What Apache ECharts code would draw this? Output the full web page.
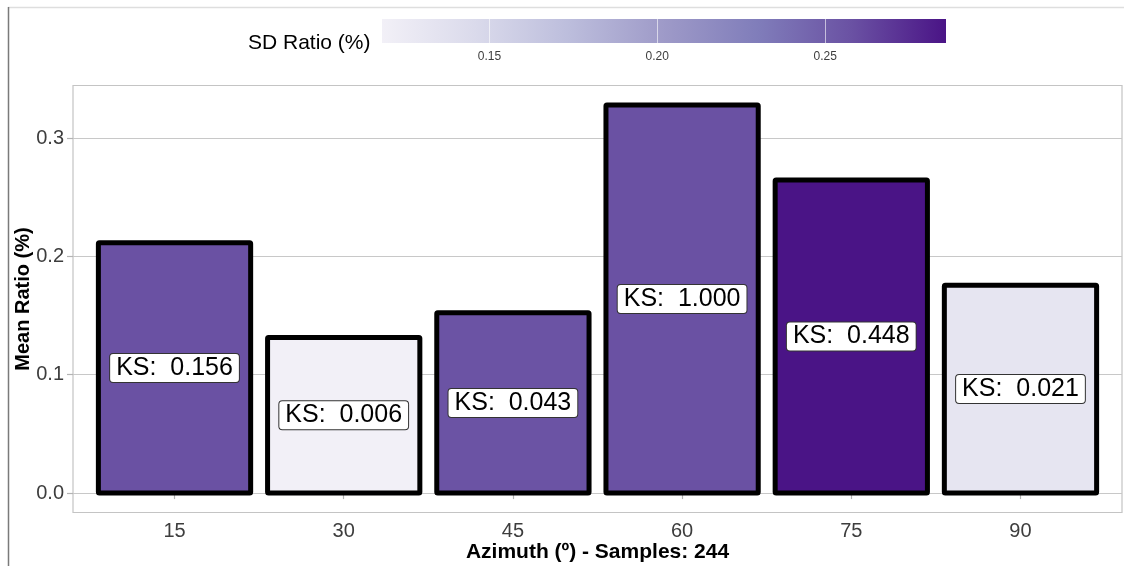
<!DOCTYPE html>
<html>
<head>
<meta charset="utf-8">
<script src="https://cdn.jsdelivr.net/npm/echarts@6/dist/echarts.min.js"></script>
<style>
  html, body { margin: 0; padding: 0; background: #fff; }
  #chart { width: 1124px; height: 566px; }
</style>
</head>
<body>
<div id="chart"></div>
<script>
// Azimuth classes (degrees)
const azimuth = [15, 30, 45, 60, 75, 90];
// Mean ratio (%) per azimuth class
const meanRatio = [0.2115, 0.1315, 0.1524, 0.3280, 0.2646, 0.1757];
// Standard deviation ratio (%) per class, used for the fill colour
const sdRatio = [0.258, 0.118, 0.257, 0.258, 0.286, 0.132];
// Kolmogorov–Smirnov p-values shown on each bar
const ksValue = [0.156, 0.006, 0.043, 1.000, 0.448, 0.021];
// Tick labels
const yTicks = [0, 0.1, 0.2, 0.3];
const sdTicks = [0.15, 0.20, 0.25];

const purples = ['#f2f0f7', '#dadaeb', '#bcbddc', '#9e9ac8', '#807dba', '#6a51a3', '#4a1486'];
const FONT = '"Liberation Sans", Arial, Helvetica, sans-serif';

const step = azimuth[1] - azimuth[0];
const maxMean = Math.max(...meanRatio);
const minSd = Math.min(...sdRatio);
const maxSd = Math.max(...sdRatio);

const barData = azimuth.map((a, i) => [a, meanRatio[i], sdRatio[i], ksValue[i]]);

const chart = echarts.init(document.getElementById('chart'), null, { renderer: 'canvas' });

chart.setOption({
  backgroundColor: '#fff',
  animation: false,
  textStyle: { fontFamily: FONT },
  graphic: [
    { type: 'line', shape: { x1: 8, y1: 7.5, x2: 1124, y2: 7.5 }, style: { stroke: '#dedede', lineWidth: 1.5 } },
    { type: 'line', shape: { x1: 8.5, y1: 7, x2: 8.5, y2: 566 }, style: { stroke: '#7a7a7a', lineWidth: 1.5 } },
    {
      type: 'text', left: 248, top: 33,
      style: { text: 'SD Ratio (%)', fontSize: 21, fontFamily: FONT, fill: '#000' }
    }
  ],
  visualMap: {
    show: false,
    type: 'continuous',
    seriesIndex: 0,
    dimension: 2,
    min: minSd,
    max: maxSd,
    inRange: { color: purples }
  },
  grid: [
    { left: 73, top: 85.5, width: 1049, height: 427, outerBoundsMode: 'none', show: true, borderColor: '#c4c4c4', borderWidth: 1.2, backgroundColor: 'transparent' },
    { left: 382, top: 19, width: 564, height: 24, outerBoundsMode: 'none' }
  ],
  xAxis: [
    {
      type: 'value', gridIndex: 0,
      min: azimuth[0] - 0.6 * step,
      max: azimuth[azimuth.length - 1] + 0.6 * step,
      axisLine: { show: false },
      splitLine: { show: false },
      axisTick: { show: true, customValues: azimuth, length: 6, lineStyle: { color: '#b3b3b3', width: 1.2 } },
      axisLabel: { customValues: azimuth, fontSize: 20, color: '#3d3d3d', margin: 9, fontFamily: FONT },
      name: 'Azimuth (º) - Samples: 244',
      nameLocation: 'middle',
      nameMoveOverlap: false,
      nameGap: 29,
      nameTextStyle: { fontSize: 21, fontWeight: 'bold', color: '#000', fontFamily: FONT }
    },
    {
      type: 'value', gridIndex: 1, min: minSd, max: maxSd, z: 10,
      axisLine: { show: false },
      splitLine: { show: false },
      axisTick: { show: true, inside: true, customValues: sdTicks, length: 24, lineStyle: { color: '#ffffff', width: 1, opacity: 0.6 } },
      axisLabel: { customValues: sdTicks, fontSize: 12, color: '#3d3d3d', margin: 8, fontFamily: FONT, formatter: v => v.toFixed(2) }
    }
  ],
  yAxis: [
    {
      type: 'value', gridIndex: 0,
      min: -0.05 * maxMean,
      max: 1.05 * maxMean,
      axisLine: { show: false },
      axisTick: { show: true, customValues: yTicks, length: 6, lineStyle: { color: '#b3b3b3', width: 1.2 } },
      axisLabel: { customValues: yTicks, fontSize: 20, color: '#3d3d3d', margin: 9, fontFamily: FONT, formatter: v => v.toFixed(1) },
      splitLine: { show: true, lineStyle: { color: '#c8c8c8', width: 1.2 } },
      name: 'Mean Ratio (%)',
      nameLocation: 'middle',
      nameMoveOverlap: false,
      nameGap: 40,
      nameTextStyle: { fontSize: 20, fontWeight: 'bold', color: '#000', fontFamily: FONT }
    },
    {
      type: 'value', gridIndex: 1, min: 0, max: 1,
      axisLine: { show: false }, axisTick: { show: false }, axisLabel: { show: false }, splitLine: { show: false }
    }
  ],
  series: [
    {
      type: 'custom',
      xAxisIndex: 0, yAxisIndex: 0,
      data: barData,
      encode: { x: 0, y: 1 },
      renderItem(params, api) {
        const x = api.value(0);
        const y = api.value(1);
        const ks = api.value(3);
        const half = 0.45 * step;
        const tl = api.coord([x - half, y]);
        const br = api.coord([x + half, 0]);
        return {
          type: 'rect',
          shape: { x: tl[0], y: tl[1], width: br[0] - tl[0], height: br[1] - tl[1], r: 1 },
          style: { fill: api.visual('color'), stroke: '#000', lineWidth: 5, lineJoin: 'round' },
          textContent: {
            style: {
              text: 'KS:  ' + ks.toFixed(3),
              fontSize: 25,
              fontFamily: FONT,
              fill: '#000',
              backgroundColor: '#fff',
              borderColor: '#333',
              borderWidth: 1,
              borderRadius: 3,
              padding: [2, 6, 1, 6],
              lineHeight: 25
            }
          },
          textConfig: { position: 'inside' }
        };
      }
    },
    {
      type: 'custom',
      xAxisIndex: 1, yAxisIndex: 1,
      data: [[minSd, maxSd]],
      renderItem(params, api) {
        const tl = api.coord([api.value(0), 1]);
        const br = api.coord([api.value(1), 0]);
        const stops = purples.map((c, i) => ({ offset: i / (purples.length - 1), color: c }));
        return {
          type: 'rect',
          shape: { x: tl[0], y: tl[1], width: br[0] - tl[0], height: br[1] - tl[1] },
          style: { fill: new echarts.graphic.LinearGradient(0, 0, 1, 0, stops) }
        };
      }
    }
  ]
});
</script>
</body>
</html>
